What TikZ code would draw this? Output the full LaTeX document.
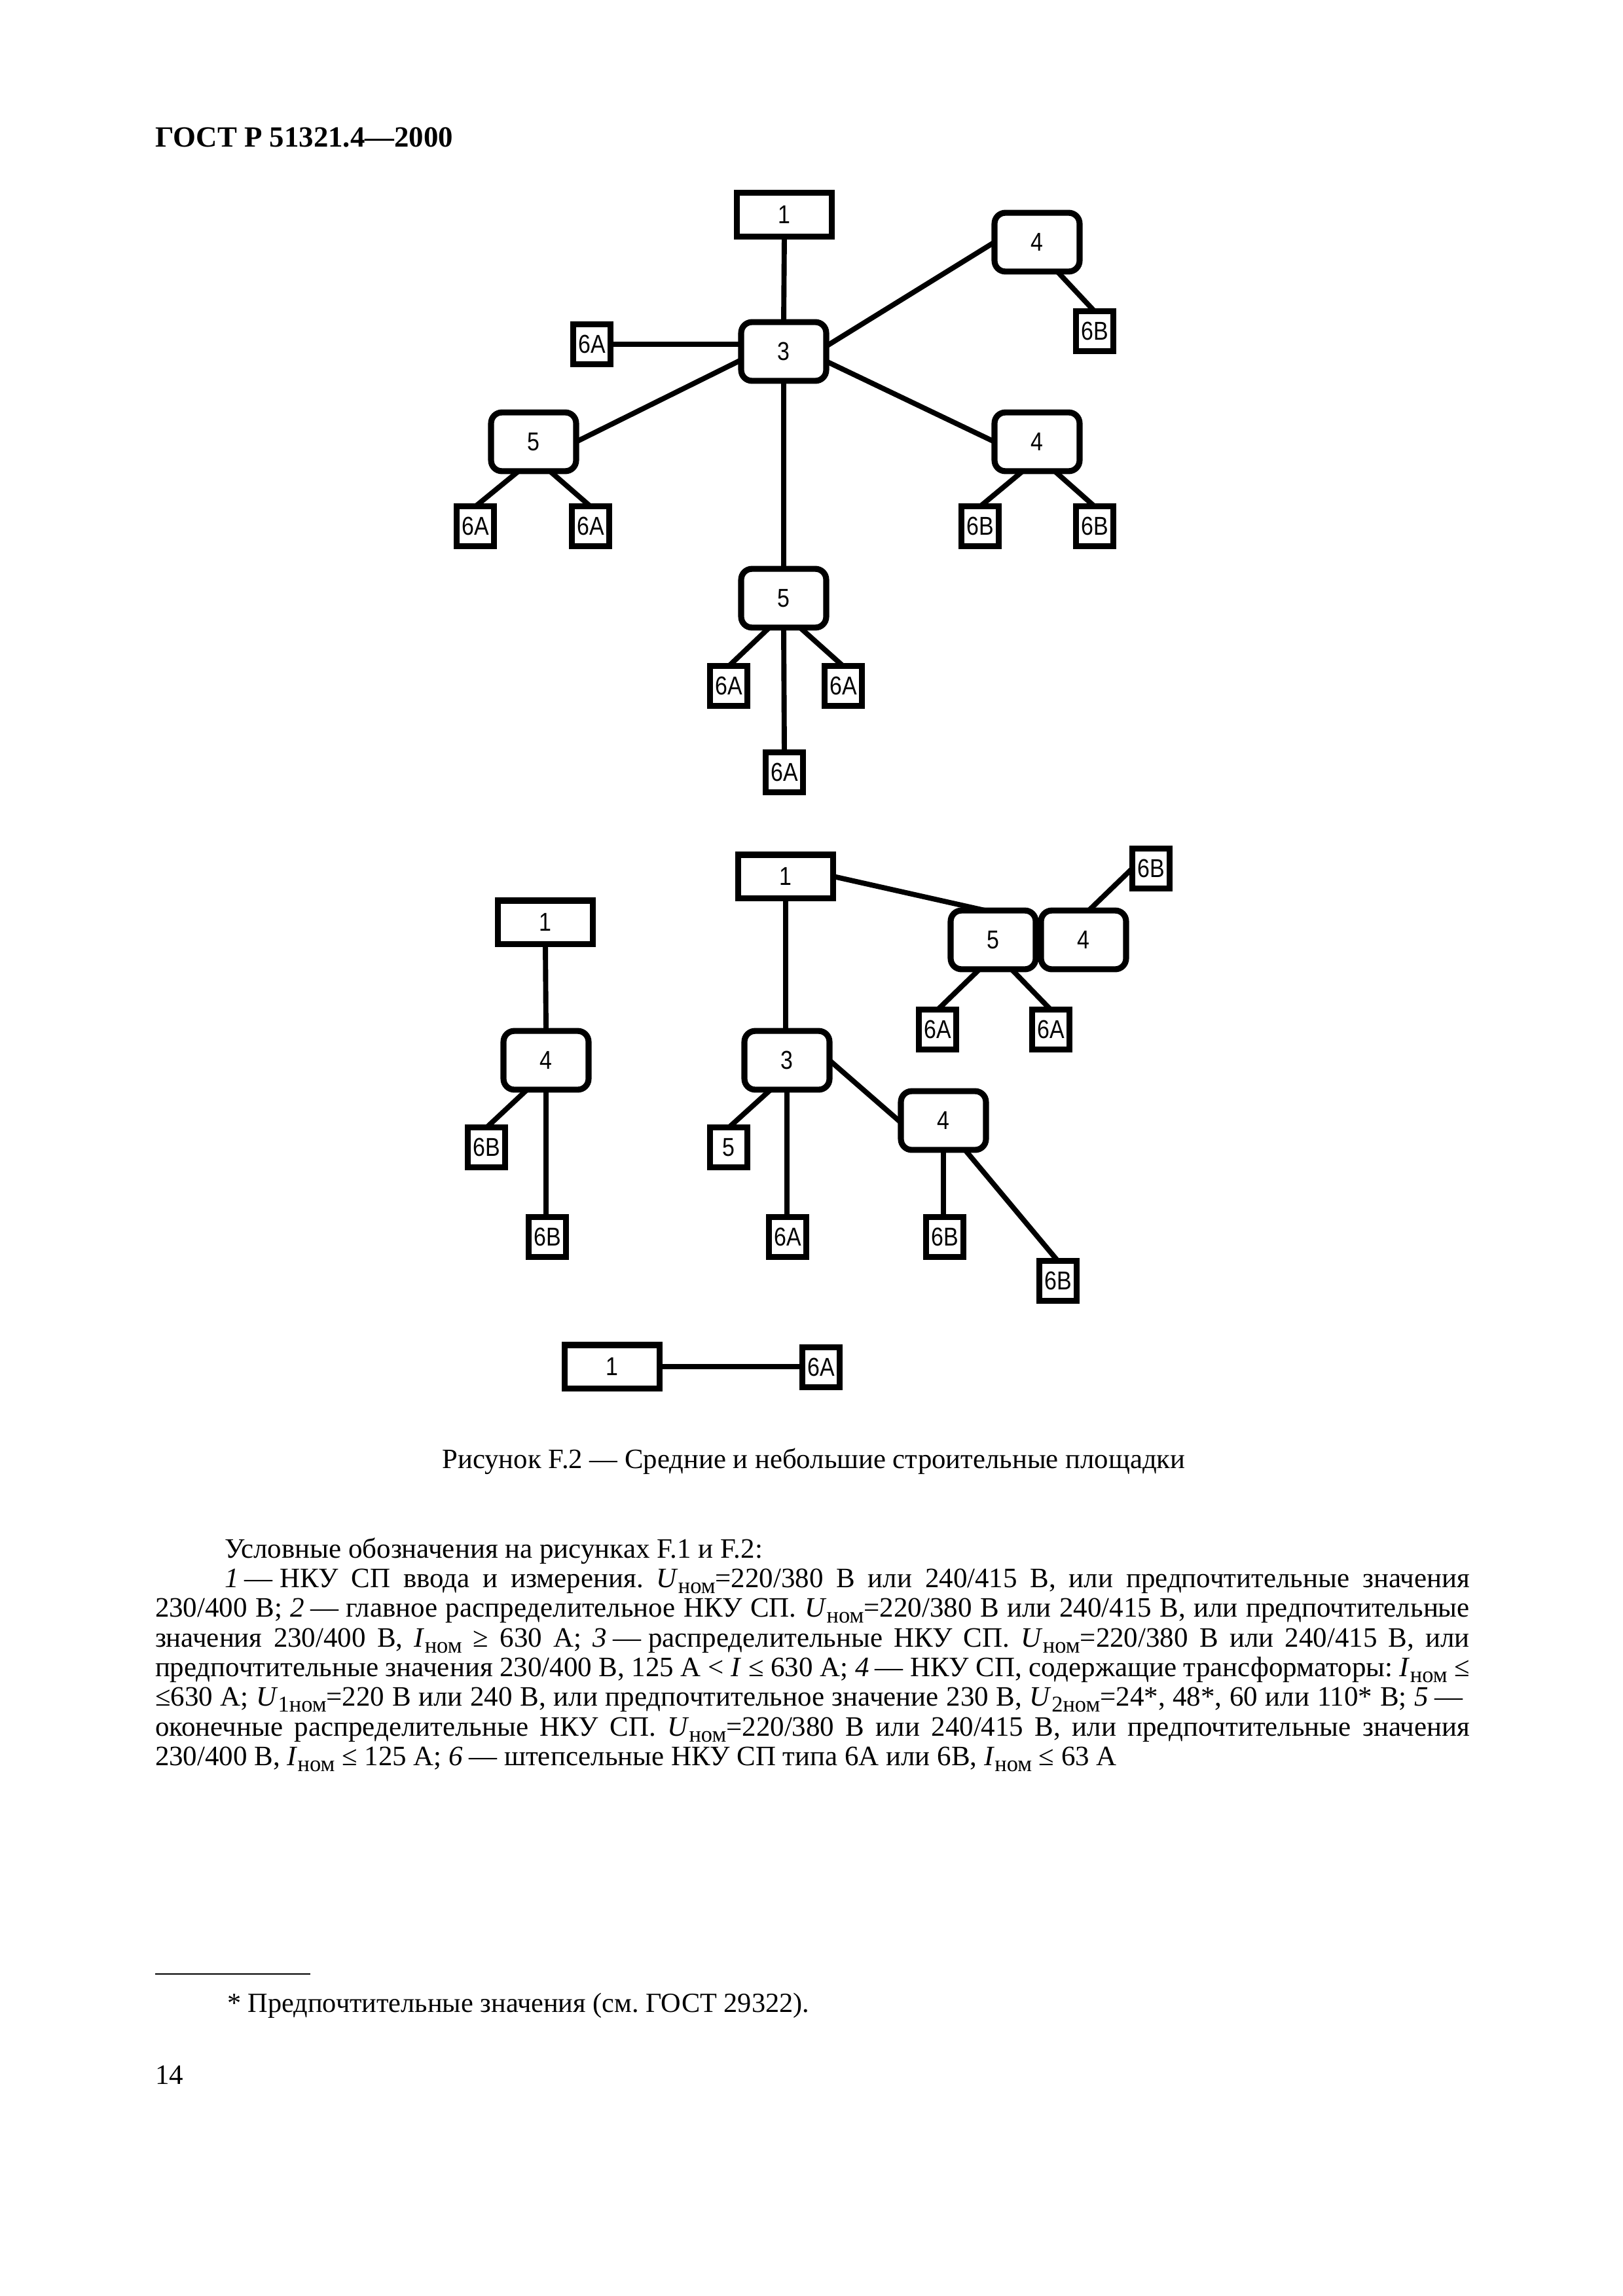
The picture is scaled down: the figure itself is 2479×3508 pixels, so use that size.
\documentclass[tikz,border=0pt]{standalone}
\usepackage{fontspec}
\setmainfont{Liberation Serif}
\newfontfamily\boxfont[FakeStretch=0.86]{Liberation Sans}
\usetikzlibrary{calc}
\frenchspacing
\newcommand{\nom}{\raisebox{-0.5ex}{\fontsize{8.3}{9}\selectfont ном}}
\newcommand{\nomi}[1]{\raisebox{-0.5ex}{\fontsize{8.3}{9}\selectfont #1ном}}
\newcommand{\dsh}{\hspace{0.22em}—\hspace{0.25em}}
\begin{document}
\begin{tikzpicture}[x=0.084667mm, y=-0.084667mm,
  every node/.style={inner sep=0pt, outer sep=0pt},
  lbl/.style={font=\boxfont\fontsize{9.5}{11}\selectfont},
  rbox/.style={lbl, draw, line width=2.2pt, rounded corners=1.4mm, minimum width=11.0mm, minimum height=7.6mm},
  bigbox/.style={lbl, draw, line width=2.2pt, minimum width=12.3mm, minimum height=5.6mm},
  sbox/.style={lbl, draw, line width=2.2pt, minimum width=4.85mm, minimum height=5.1mm},
  conn/.style={line width=1.9pt},
  txt/.style={font=\fontsize{10.35}{12}\selectfont, anchor=base west},
  ttl/.style={font=\bfseries\fontsize{10.8}{13}\selectfont, anchor=base west}
]
\fill[white] (0,0) rectangle (2479,3508);
\path[use as bounding box] (0,0) rectangle (2479,3508);

% ---------- header ----------
\node[ttl] (title) at (237,224) {ГОСТ Р 51321.4—2000};

% ---------- top diagram ----------
\node[bigbox] (t1) at (1198,328) {1};
\node[rbox] (t3) at (1197,537) {3};
\node[sbox] (t6a) at (904,526) {6A};
\node[rbox] (t4a) at (1584,370) {4};
\node[sbox] (t6b) at (1672,506) {6B};
\node[rbox] (t5a) at (815,675) {5};
\node[sbox] (t6a1) at (726,804) {6A};
\node[sbox] (t6a2) at (902,804) {6A};
\node[rbox] (t4b) at (1584,675) {4};
\node[sbox] (t6b1) at (1497,804) {6B};
\node[sbox] (t6b2) at (1672,804) {6B};
\node[rbox] (t5b) at (1197,914) {5};
\node[sbox] (t6a3) at (1113,1048) {6A};
\node[sbox] (t6a4) at (1288,1048) {6A};
\node[sbox] (t6a5) at (1198,1180) {6A};

\draw[conn] (t1.south) -- (t3.north);
\draw[conn] (t6a.east) -- (t6a.east -| t3.west);
\draw[conn] ($(t3.east)+(0,-8)$) -- (t4a.west);
\draw[conn] ($(t3.west)+(0,13)$) -- (t5a.east);
\draw[conn] ($(t3.east)+(0,15)$) -- (t4b.west);
\draw[conn] (t3.south) -- (t5b.north);
\draw[conn] ($(t4a.south)+(31,0)$) -- (t6b.north);
\draw[conn] ($(t5a.south)+(-23,0)$) -- (t6a1.north);
\draw[conn] ($(t5a.south)+(25,0)$) -- (t6a2.north);
\draw[conn] ($(t4b.south)+(-22,0)$) -- (t6b1.north);
\draw[conn] ($(t4b.south)+(27,0)$) -- (t6b2.north);
\draw[conn] ($(t5b.south)+(-22,0)$) -- (t6a3.north);
\draw[conn] ($(t5b.south)+(25,0)$) -- (t6a4.north);
\draw[conn] (t5b.south) -- (t6a5.north);

% ---------- middle diagrams ----------
\node[bigbox] (m1L) at (833,1409) {1};
\node[rbox] (m4L) at (834,1620) {4};
\node[sbox] (m6bL1) at (743,1753) {6B};
\node[sbox] (m6bL2) at (836,1890) {6B};
\draw[conn] (m1L.south) -- (m4L.north);
\draw[conn] ($(m4L.south)+(-29,0)$) -- (m6bL1.north);
\draw[conn] (m4L.south) -- (m4L.south |- m6bL2.north);

\node[bigbox] (m1) at (1200,1339) {1};
\node[rbox] (m3) at (1202,1620) {3};
\node[sbox] (m5s) at (1113,1753) {5};
\node[sbox] (m6a) at (1203,1890) {6A};
\node[rbox] (m4) at (1441,1712) {4};
\node[sbox] (m6b1) at (1443,1890) {6B};
\node[sbox] (m6b2) at (1616,1957) {6B};
\node[rbox] (m5r) at (1517,1436) {5};
\node[rbox] (m4r) at (1655,1436) {4};
\node[sbox] (m6bR) at (1758,1327) {6B};
\node[sbox] (m6aR1) at (1432,1573) {6A};
\node[sbox] (m6aR2) at (1605,1573) {6A};

\draw[conn] (m1.south) -- (m1.south |- m3.north);
\draw[conn] (m1.east) -- ($(m5r.north)+(-12,0)$);
\draw[conn] ($(m4r.north)+(8,0)$) -- (m6bR.west);
\draw[conn] ($(m5r.south)+(-21,0)$) -- (m6aR1.north);
\draw[conn] ($(m5r.south)+(28,0)$) -- (m6aR2.north);
\draw[conn] ($(m3.south)+(-25,0)$) -- (m5s.north);
\draw[conn] (m3.south) -- (m3.south |- m6a.north);
\draw[conn] (m3.east) -- ($(m4.west)+(0,3)$);
\draw[conn] (m4.south) -- (m4.south |- m6b1.north);
\draw[conn] ($(m4.south)+(33,0)$) -- (m6b2.north);

% ---------- bottom diagram ----------
\node[bigbox] (b1) at (935,2088) {1};
\node[sbox] (b6a) at (1254,2089) {6A};
\draw[conn] (b1.east) -- (b1.east -| b6a.west);

% ---------- caption ----------
\node[font=\fontsize{10.3}{12}\selectfont, anchor=base] (cap) at (1243,2243) {Рисунок F.2 — Средние и небольшие строительные площадки};

% ---------- legend ----------
\node[txt] (leg1) at (343,2380) {Условные обозначения на рисунках F.1 и F.2:};
\node[txt] (leg2) at (343,2425) {\makebox[161.04mm][s]{\textit{1}\dsh НКУ СП ввода и измерения. \textit{U}\nom=220/380 В или 240/415 В, или предпочтительные значения}};
\node[txt] (leg3) at (237,2470) {\makebox[170.01mm][s]{230/400 В; \textit{2}\dsh главное распределительное НКУ СП. \textit{U}\nom=220/380 В или 240/415 В, или предпочтительные}};
\node[txt] (leg4) at (237,2516) {\makebox[170.01mm][s]{значения 230/400 В, \textit{I}\nom{} ≥ 630 А; \textit{3}\dsh распределительные НКУ СП. \textit{U}\nom=220/380 В или 240/415 В, или}};
\node[txt] (leg5) at (237,2561) {\makebox[170.01mm][s]{предпочтительные значения 230/400 В, 125 А < \textit{I} ≤ 630 А; \textit{4}\dsh НКУ СП, содержащие трансформаторы: \textit{I}\nom{} ≤}};
\node[txt] (leg6) at (237,2606) {\makebox[170.01mm][s]{≤630 А; \textit{U}\nomi{1}=220 В или 240 В, или предпочтительное значение 230 В, \textit{U}\nomi{2}=24*, 48*, 60 или 110* В; \textit{5}\dsh}};
\node[txt] (leg7) at (237,2652) {\makebox[170.01mm][s]{оконечные распределительные НКУ СП. \textit{U}\nom=220/380 В или 240/415 В, или предпочтительные значения}};
\node[txt] (leg8) at (237,2697) {230/400 В, \textit{I}\nom{} ≤ 125 А; \textit{6}\dsh штепсельные НКУ СП типа 6А или 6В, \textit{I}\nom{} ≤ 63 А};

% ---------- footnote ----------
\coordinate (rl) at (237,3016);
\coordinate (rr) at (474,3016);
\draw[line width=0.6pt] (rl) -- (rr);
\node[txt, font=\fontsize{10.2}{12}\selectfont] (fn) at (347,3074) {* Предпочтительные значения (см. ГОСТ 29322).};
\node[txt] (pg) at (237,3184) {14};
\end{tikzpicture}
\end{document}
